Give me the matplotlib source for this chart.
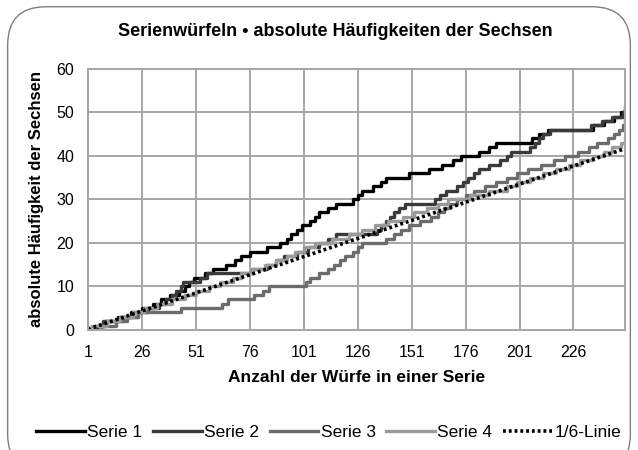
import numpy as np
import matplotlib.pyplot as plt
from matplotlib.patches import FancyBboxPatch

plt.rcParams['font.family'] = ['Liberation Sans', 'DejaVu Sans']

N_THROWS = 250
TICK_LABELS = [1, 26, 51, 76, 101, 126, 151, 176, 201, 226]

# throw numbers at which a six came up, one list per series
SIXES_1 = [5, 9, 15, 21, 26, 31, 35, 39, 43, 46, 48, 50, 55, 59, 65, 69, 72,
           76, 84, 90, 93, 95, 98, 100, 104, 106, 108, 112, 116, 124, 126, 128,
           133, 137, 139, 150, 159, 165, 170, 174, 182, 187, 190, 207, 210,
           214, 235, 240, 245, 248, 250]
SIXES_2 = [4, 8, 17, 24, 29, 34, 37, 40, 42, 44, 45, 53, 56, 77, 84, 88, 92,
           98, 103, 108, 112, 116, 135, 137, 139, 141, 143, 145, 148, 162, 164,
           167, 172, 175, 177, 180, 182, 187, 192, 195, 197, 206, 208, 210,
           212, 215, 234, 239, 244, 249]
SIXES_3 = [7, 14, 19, 24, 44, 63, 66, 78, 82, 85, 102, 104, 108, 112, 115,
           118, 120, 124, 126, 128, 139, 143, 146, 150, 155, 160, 163, 166,
           169, 172, 176, 180, 185, 190, 195, 200, 205, 211, 217, 222, 228,
           233, 237, 242, 245, 247, 249, 250]
SIXES_4 = [3, 10, 16, 22, 27, 33, 40, 46, 51, 57, 62, 68, 72, 77, 83, 88, 93,
           97, 101, 106, 114, 122, 128, 134, 140, 147, 152, 158, 163, 168, 178,
           187, 195, 200, 206, 212, 218, 224, 229, 235, 240, 244, 248, 250]

SERIES = [("Serie 1", SIXES_1, "#000000"),
          ("Serie 2", SIXES_2, "#3a3a3a"),
          ("Serie 3", SIXES_3, "#6c6c6c"),
          ("Serie 4", SIXES_4, "#9a9a9a")]

throws = np.arange(1, N_THROWS + 1)

fig = plt.figure(figsize=(6.38, 4.5), dpi=100)
frame = FancyBboxPatch((0.012, -0.05), 0.976, 1.035, boxstyle="round,pad=0,rounding_size=0.06",
                       transform=fig.transFigure, facecolor="white", edgecolor="#7f7f7f",
                       linewidth=1.0, mutation_aspect=638 / 450, zorder=-1)
fig.patches.append(frame)

ax = fig.add_axes([0.138, 0.267, 0.842, 0.58])
ax.patch.set_alpha(0)

for name, sixes, color in SERIES:
    counts = np.searchsorted(np.array(sixes), throws, side="right")
    ax.step(throws, counts, where="post", color=color, linewidth=2.4, label=name)

ax.plot(throws, throws / 6, color="black", linewidth=2.6, linestyle=(0, (0.8, 0.8)),
        label="1/6-Linie")

ax.set_xlim(1, N_THROWS)
ax.set_ylim(0, 60)
ax.set_yticks(range(0, 61, 10))
ax.set_xticks(TICK_LABELS)
ax.set_xticklabels([str(t) for t in TICK_LABELS])
ax.grid(True, color="#a6a6a6", linewidth=1.4)
ax.set_axisbelow(True)
for side in ax.spines:
    ax.spines[side].set_color("#a6a6a6")
    ax.spines[side].set_linewidth(1.4)
ax.tick_params(length=0, labelsize=11.5)
ax.tick_params(axis="x", pad=11)
ax.tick_params(axis="y", pad=10)

fig.text(0.525, 0.929, "Serienwürfeln • absolute Häufigkeiten der Sechsen", fontsize=13,
         fontweight="bold", ha="center", va="center")
ax.set_xlabel("Anzahl der Würfe in einer Serie", fontsize=12.5, fontweight="bold", labelpad=7)
ax.set_ylabel("absolute Häufigkeit der Sechsen", fontsize=12, fontweight="bold", labelpad=9)

fig.legend(loc="center", bbox_to_anchor=(0.515, 0.038), ncol=5, frameon=False,
           fontsize=12.5, handlelength=2.8, handletextpad=0.15, columnspacing=0.6)

fig.savefig("out.png", dpi=100)
